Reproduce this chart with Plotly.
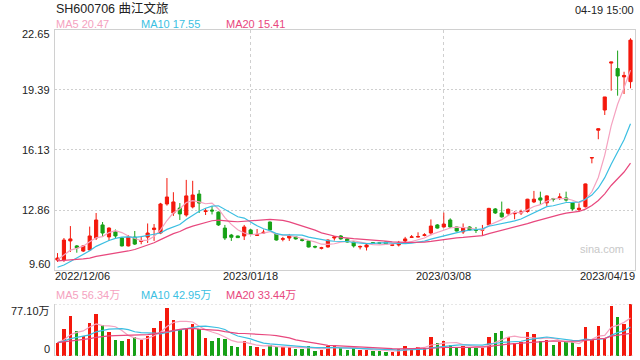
import plotly.graph_objects as go
import pandas as pd

# ---------------- data ----------------
title = "SH600706 曲江文旅"
timestamp = "04-19 15:00"

opens = [10.14, 10.14, 11.18, 10.91, 10.63, 10.69, 11.34, 12.05, 11.40, 11.67,
         11.34, 10.91, 11.39, 11.15, 11.39, 11.80, 11.61, 13.19, 12.70, 12.97,
         12.59, 13.03, 13.73, 12.78, 12.86, 12.75, 11.88, 11.50, 11.45, 11.45,
         11.78, 11.48, 11.61, 12.21, 11.56, 11.27, 11.34, 11.40, 11.25, 11.18,
         10.88, 10.78, 10.85, 11.34, 11.45, 11.29, 11.12, 10.85, 10.85, 11.09,
         11.08, 11.12, 10.94, 10.96, 11.18, 11.37, 11.39, 11.48, 11.61, 12.05,
         11.94, 12.32, 11.94, 11.67, 11.94, 11.80, 11.76, 12.05, 12.92, 12.70,
         12.68, 12.66, 12.70, 12.78, 13.30, 13.52, 13.25, 13.47, 13.53, 13.52,
         13.26, 12.88, 13.04, 15.69, 17.20, 18.30, 20.85, 20.55, 20.10, 19.84]
highs = [10.52, 11.34, 11.99, 10.96, 10.96, 11.96, 12.70, 12.21, 11.92, 11.80,
         11.39, 11.50, 11.72, 11.45, 12.13, 12.10, 13.25, 14.60, 13.83, 13.24,
         14.50, 14.45, 13.95, 12.97, 13.08, 12.78, 12.05, 11.56, 11.47, 12.05,
         11.83, 11.83, 11.80, 12.23, 11.60, 11.40, 11.56, 11.42, 11.30, 11.20,
         10.93, 10.86, 11.26, 11.45, 11.50, 11.32, 11.15, 10.93, 11.05, 11.12,
         11.12, 11.15, 11.01, 11.18, 11.40, 11.50, 11.65, 11.60, 12.35, 12.10,
         12.72, 12.41, 11.96, 12.13, 11.98, 11.94, 12.05, 12.98, 12.97, 13.32,
         12.95, 12.80, 12.88, 13.47, 13.90, 13.86, 13.66, 13.52, 13.77, 13.86,
         13.30, 13.22, 14.30, 15.71, 17.30, 19.01, 20.91, 21.53, 20.38, 22.20]
lows = [10.04, 10.04, 10.58, 10.54, 10.58, 10.66, 11.23, 11.42, 11.18, 11.29,
        10.88, 10.88, 10.96, 11.00, 11.07, 11.18, 11.55, 13.10, 12.54, 12.32,
        12.50, 12.95, 12.70, 12.59, 12.62, 12.00, 11.23, 11.18, 11.34, 11.23,
        11.50, 11.45, 11.56, 11.75, 11.20, 11.16, 11.18, 11.25, 11.15, 10.83,
        10.78, 10.72, 10.82, 11.20, 11.25, 11.10, 10.82, 10.72, 10.66, 11.01,
        11.00, 10.99, 10.90, 10.88, 11.10, 11.34, 11.37, 11.43, 11.49, 11.85,
        11.90, 11.88, 11.70, 11.56, 11.75, 11.61, 11.45, 12.00, 12.65, 12.45,
        12.54, 12.36, 12.59, 12.72, 13.24, 13.14, 13.08, 13.32, 13.41, 13.32,
        12.83, 12.77, 13.00, 15.40, 16.71, 18.03, 19.35, 19.08, 19.17, 19.48]
closes = [10.25, 11.23, 11.29, 10.80, 10.91, 11.45, 12.32, 11.61, 11.88, 11.45,
          10.91, 11.39, 11.01, 11.20, 11.61, 11.88, 13.19, 13.57, 13.30, 12.65,
          13.63, 13.68, 13.24, 12.81, 12.81, 12.05, 11.34, 11.38, 11.36, 11.94,
          11.56, 11.52, 11.65, 11.78, 11.23, 11.30, 11.45, 11.29, 11.21, 10.85,
          10.85, 10.81, 11.23, 11.40, 11.29, 11.12, 10.91, 10.88, 10.96, 11.05,
          11.05, 11.01, 10.97, 11.07, 11.29, 11.40, 11.42, 11.51, 11.99, 11.88,
          12.10, 11.94, 11.72, 11.88, 11.78, 11.76, 11.80, 12.95, 12.70, 12.49,
          12.90, 12.70, 12.76, 13.45, 13.45, 13.40, 13.63, 13.44, 13.57, 13.40,
          12.92, 12.96, 14.28, 15.71, 17.28, 19.01, 20.91, 20.15, 20.18, 22.10]
# volume in 万 (10k shares)
volumes = [19.7, 40.0, 59.3, 37.1, 29.7, 49.4, 62.7, 46.0, 35.1, 23.7,
           22.2, 25.2, 28.6, 24.2, 30.1, 41.5, 51.9, 71.2, 53.4, 38.5,
           41.0, 47.9, 39.6, 27.1, 22.2, 26.2, 25.2, 15.3, 13.8, 22.2,
           14.8, 13.8, 10.8, 15.8, 13.8, 12.8, 13.8, 10.8, 10.8, 14.8,
           7.9, 8.9, 15.3, 16.3, 11.4, 8.9, 11.4, 8.9, 8.9, 7.4,
           7.9, 6.4, 6.4, 10.4, 15.3, 12.3, 13.8, 11.4, 28.6, 19.7,
           22.2, 16.3, 12.3, 14.8, 12.3, 12.3, 12.3, 28.6, 34.6, 37.1,
           27.5, 18.8, 20.3, 35.0, 32.5, 22.8, 24.2, 16.8, 20.5, 20.9,
           20.5, 14.0, 43.5, 25.0, 44.8, 25.5, 74.5, 57.6, 47.0, 77.1]
# sessions before the visible window (only feed the moving averages)
prior_closes = [10.43, 10.60, 10.70, 10.50, 10.60, 10.40, 10.50, 10.30, 10.30, 10.17,
                10.03, 9.40, 9.00, 9.10, 9.22, 9.88, 10.00, 10.30, 10.32]
prior_volumes = [21, 19, 22, 18, 20, 23, 19, 17, 21, 20,
                 18, 22, 19, 21, 20, 18, 22, 20, 19]

x_tick_idx = [0, 30, 60, 89]
x_tick_text = ["2022/12/06", "2023/01/18", "2023/03/08", "2023/04/19"]
price_ticks = [22.65, 19.39, 16.13, 12.86, 9.60]

ma_windows = [5, 10, 20]
ma_colors = ["#f5a2c0", "#3bbfe2", "#e8487e"]
RED = "#f4180c"
GREEN = "#17a117"
FONT = "Liberation Sans, Arial, Noto Sans CJK SC, sans-serif"

# ---------------- derived ----------------
n = len(closes)
idx = list(range(n))
p = len(prior_closes)
all_c = pd.Series(prior_closes + closes)
all_v = pd.Series(prior_volumes + volumes)
price_ma = {w: all_c.rolling(w).mean().iloc[p:].tolist() for w in ma_windows}
vol_ma = {w: all_v.rolling(w).mean().iloc[p:].tolist() for w in ma_windows}
vol_colors = [RED if c >= o else GREEN for o, c in zip(opens, closes)]
vmax = max(volumes)

# ---------------- layout geometry (pixels) ----------------
W, H = 640, 360
L, R = 55, 635
MT, MB = 30, 270      # main panel
VT, VB = 304, 356     # volume panel
c0, c_last = 57.5, 630.5
step = (c_last - c0) / (n - 1)
xr = [(L - c0) / step, (n - 1) + (R - c_last) / step]


def px(xp):
    return xp / W


def py(yp):
    return 1 - yp / H


fig = go.Figure()

fig.add_trace(go.Candlestick(
    x=idx, open=opens, high=highs, low=lows, close=closes,
    increasing=dict(line=dict(color=RED, width=1), fillcolor=RED),
    decreasing=dict(line=dict(color=GREEN, width=1), fillcolor=GREEN),
    whiskerwidth=0, hoverinfo="skip", xaxis="x", yaxis="y"))

for w, col in zip(ma_windows, ma_colors):
    fig.add_trace(go.Scatter(x=idx, y=price_ma[w], mode="lines",
                             line=dict(color=col, width=1.2),
                             hoverinfo="skip", xaxis="x", yaxis="y"))

fig.add_trace(go.Bar(x=idx, y=volumes, marker=dict(color=vol_colors, line=dict(width=0)),
                     width=0.52, hoverinfo="skip", xaxis="x2", yaxis="y2"))
for w, col in zip(ma_windows, ma_colors):
    fig.add_trace(go.Scatter(x=idx, y=vol_ma[w], mode="lines",
                             line=dict(color=col, width=1.2),
                             hoverinfo="skip", xaxis="x2", yaxis="y2"))

GRID = "#cfcfcf"
BORDER = "#d0d0d0"

fig.update_layout(
    width=W, height=H,
    margin=dict(l=0, r=0, t=0, b=0),
    paper_bgcolor="white", plot_bgcolor="white",
    showlegend=False,
    font=dict(family=FONT, size=11, color="#333"),
    xaxis=dict(domain=[px(L), px(R)], range=xr, anchor="y",
               tickvals=x_tick_idx[1:3], showticklabels=False, ticks="",
               showgrid=True, gridcolor=GRID, griddash="3px,3px", gridwidth=1,
               showline=True, linecolor=BORDER, linewidth=1, mirror=True,
               zeroline=False, rangeslider=dict(visible=False), fixedrange=True),
    yaxis=dict(domain=[py(MB), py(MT)], range=[price_ticks[-1], price_ticks[0]], anchor="x",
               tickvals=price_ticks[1:-1], showticklabels=False, ticks="",
               showgrid=True, gridcolor=GRID, griddash="2px,2px", gridwidth=1,
               showline=True, linecolor=BORDER, linewidth=1, mirror=True,
               zeroline=False, fixedrange=True),
    xaxis2=dict(domain=[px(L), px(R)], range=xr, anchor="y2",
                tickvals=x_tick_idx[1:3], showticklabels=False, ticks="",
                showgrid=True, gridcolor=GRID, griddash="3px,3px", gridwidth=1,
                showline=False, zeroline=False, fixedrange=True),
    yaxis2=dict(domain=[py(VB), py(VT)], range=[0, vmax], anchor="x2",
                showticklabels=False, ticks="", showgrid=False,
                showline=True, linecolor=BORDER, linewidth=1,
                zeroline=False, fixedrange=True),
    bargap=0,
)

shapes = []
for v in [0, vmax]:
    shapes.append(dict(type="line", xref="paper", yref="y2", x0=px(L), x1=px(R),
                       y0=v, y1=v, line=dict(color=GRID, width=1, dash="2px,2px")))
fig.update_layout(shapes=shapes)

ann = []
ann.append(dict(text=title, xref="paper", yref="paper", x=px(L) - 0.002, y=py(8),
                xanchor="left", yanchor="middle", showarrow=False,
                font=dict(size=12.5, color="#222")))
ann.append(dict(text=timestamp, xref="paper", yref="paper", x=px(R + 1), y=py(10),
                xanchor="right", yanchor="middle", showarrow=False,
                font=dict(size=11, color="#222")))

leg_x = [L, 140, 225]
for w, col, lx in zip(ma_windows, ma_colors, leg_x):
    ann.append(dict(text=f"MA{w} {price_ma[w][-1]:.2f}", xref="paper", yref="paper",
                    x=px(lx) - 0.002, y=py(24), xanchor="left", yanchor="middle",
                    showarrow=False, font=dict(size=11, color=col)))
    ann.append(dict(text=f"MA{w} {vol_ma[w][-1]:.2f}万", xref="paper", yref="paper",
                    x=px(lx) - 0.002, y=py(295), xanchor="left", yanchor="middle",
                    showarrow=False, font=dict(size=11, color=col)))

for k, v in enumerate(price_ticks):
    shift = -4 if k == 0 else (6 if k == len(price_ticks) - 1 else 0)
    ann.append(dict(text=f"{v:.2f}", xref="paper", yref="y", x=px(52), y=v,
                    xanchor="right", yanchor="middle", yshift=shift, showarrow=False,
                    font=dict(size=11, color="#222")))

ann.append(dict(text=f"{vmax:.2f}万", xref="paper", yref="y2", x=px(52), y=vmax,
                xanchor="right", yanchor="middle", yshift=-7, showarrow=False,
                font=dict(size=11, color="#222")))
ann.append(dict(text="0", xref="paper", yref="y2", x=px(52), y=0,
                xanchor="right", yanchor="middle", yshift=7.5, showarrow=False,
                font=dict(size=11, color="#222")))

for k, (i, t) in enumerate(zip(x_tick_idx, x_tick_text)):
    if k == 0:
        a = dict(xref="paper", x=px(L) - 0.003, xanchor="left")
    elif k == len(x_tick_idx) - 1:
        a = dict(xref="paper", x=px(R + 2), xanchor="right")
    else:
        a = dict(xref="x", x=i, xanchor="center")
    a.update(text=t, yref="paper", y=py(276), yanchor="middle", showarrow=False,
             font=dict(size=11, color="#222"))
    ann.append(a)

ann.append(dict(text="sina.com", xref="paper", yref="paper", x=px(602), y=py(249),
                xanchor="center", yanchor="middle", showarrow=False,
                font=dict(size=11, color="#c8c8c8")))

fig.update_layout(annotations=ann)

fig.write_html(
    "out.html",
    config={"displayModeBar": False, "staticPlot": True},
    post_script="document.body.style.margin='0';document.body.style.overflow='hidden';",
)
